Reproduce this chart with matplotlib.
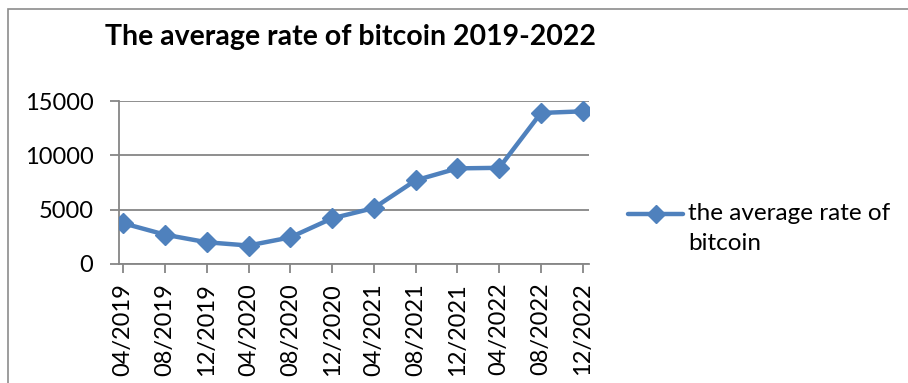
import matplotlib.pyplot as plt
from matplotlib.patches import Rectangle
from matplotlib.lines import Line2D

plt.rcParams['font.family'] = ['Lato', 'DejaVu Sans']

months = ["04/2019", "08/2019", "12/2019", "04/2020", "08/2020", "12/2020",
          "04/2021", "08/2021", "12/2021", "04/2022", "08/2022", "12/2022"]
rate = [3750, 2700, 2000, 1700, 2450, 4200, 5150, 7700, 8800, 8850, 13900, 14050]
y_ticks = [0, 5000, 10000, 15000]
series_name = "the average rate of\nbitcoin"

W, H = 908, 383
fig = plt.figure(figsize=(W / 100, H / 100), dpi=100)

# chart frame, open on the right and bottom
fig.patches.append(Rectangle((8 / W, -0.1), 1.2, 1 - 9 / H + 0.1,
                             transform=fig.transFigure, fill=False,
                             edgecolor='#8c8c8c', linewidth=1.2))

ax = fig.add_axes([119 / W, (H - 264) / H, 470 / W, (264 - 101) / H])
x = list(range(len(months)))
ax.plot(x, rate, color='#4F81BD', linewidth=3.2, marker='D', markersize=10,
        markeredgecolor='#4F81BD', zorder=3, solid_joinstyle='round')

ax.set_xlim(-0.1, 11.15)
ax.set_ylim(0, 15000)
ax.set_yticks(y_ticks)
ax.set_yticklabels([str(v) for v in y_ticks], fontsize=17)
ax.set_xticks(x)
ax.set_xticklabels(months, rotation=90, fontsize=17)
ax.yaxis.grid(True, color='#868686', linewidth=1.3)
ax.set_axisbelow(True)
for s in ['top', 'right']:
    ax.spines[s].set_visible(False)
for s in ['left', 'bottom']:
    ax.spines[s].set_color('#868686')
    ax.spines[s].set_linewidth(1.3)
ax.tick_params(axis='both', color='#868686', width=1.3, length=6.5)
ax.tick_params(axis='y', pad=12)
ax.tick_params(axis='x', pad=7)

fig.text(105 / W, 1 - 37 / H, "The average rate of bitcoin 2019-2022",
         fontsize=20.5, fontweight='bold', va='center', ha='left')

# legend: key sits level with the first line of the wrapped name
key_y = 1 - 214 / H
fig.add_artist(Line2D([628 / W, 683 / W], [key_y, key_y], transform=fig.transFigure,
                      color='#4F81BD', linewidth=3.2, solid_capstyle='round'))
fig.add_artist(Line2D([656 / W], [key_y], transform=fig.transFigure,
                      color='#4F81BD', marker='D', markersize=9.5))
fig.text(688 / W, 1 - 203 / H, series_name, fontsize=17.5, va='top', ha='left',
         linespacing=1.55)

fig.savefig('out.png', dpi=100, facecolor='white')
